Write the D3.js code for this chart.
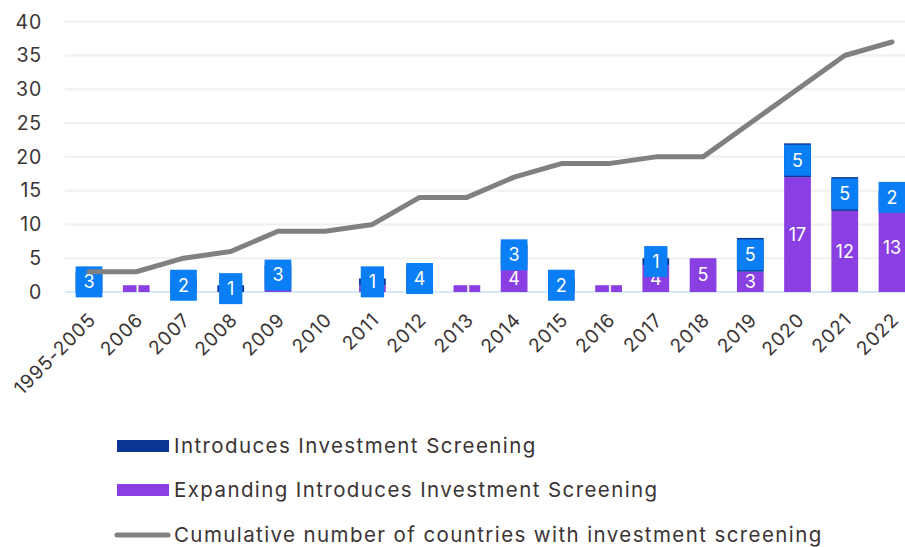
<!DOCTYPE html>
<html>
<head>
<meta charset="utf-8">
<script src="https://cdn.jsdelivr.net/npm/d3@7/dist/d3.min.js"></script>
<style>
  body { margin: 0; background: #fff; }
  svg { display: block; font-family: Inter, "Open Sans", sans-serif; }
</style>
</head>
<body>
<script>
// chart data
var years = ["1995-2005", "2006", "2007", "2008", "2009", "2010", "2011", "2012", "2013",
             "2014", "2015", "2016", "2017", "2018", "2019", "2020", "2021", "2022"];
var introduces = [3, 0, 2, 1, 3, 0, 1, 4, 0, 3, 2, 0, 1, 0, 5, 5, 5, 2];
var expanding = [0, 1, 0, 0, 1, 0, 1, 0, 1, 4, 0, 1, 4, 5, 3, 17, 12, 13];
var cumulative = [3, 3, 5, 6, 9, 9, 10, 14, 14, 17, 19, 19, 20, 20, 25, 30, 35, 37];
var yTicks = [0, 5, 10, 15, 20, 25, 30, 35, 40];
var legendNames = ["Introduces Investment Screening",
                   "Expanding Introduces Investment Screening",
                   "Cumulative number of countries with investment screening"];

var w = 905;
var h = 547;
var textCol = "#3b3435";
var navy = "#0a3595";
var purple = "#8a3fe3";
var labelBlue = "#0a7ef5";
var lineCol = "#808080";
var boxH = 31;

var svg = d3.select("body").append("svg")
    .attr("width", w)
    .attr("height", h);

var x = d3.scaleBand()
    .domain(years)
    .range([65.4, 915.6])
    .paddingInner(0.434)
    .paddingOuter(0.217);

var y = d3.scaleLinear().domain([0, 40]).range([292, 21.7]);

// gridlines
svg.append("g").selectAll("line")
    .data(yTicks)
    .enter().append("line")
    .attr("x1", 65)
    .attr("x2", w)
    .attr("y1", function(d){ return y(d); })
    .attr("y2", function(d){ return y(d); })
    .attr("stroke", function(d){ return d == 0 ? "#d3e8fb" : "#f0f0f0"; })
    .attr("stroke-width", 2);

// y tick labels
svg.append("g").selectAll("text")
    .data(yTicks)
    .enter().append("text")
    .attr("x", 42)
    .attr("y", function(d){ return y(d); })
    .attr("dy", "0.35em")
    .attr("text-anchor", "end")
    .attr("font-size", 19.5)
    .attr("letter-spacing", 0.8)
    .attr("fill", textCol)
    .text(function(d){ return d; });

// x tick labels
svg.append("g").selectAll("text")
    .data(years)
    .enter().append("text")
    .attr("transform", function(d){
        return "translate(" + (x(d) + x.bandwidth() / 2 + 8) + ",321) rotate(-45)";
    })
    .attr("text-anchor", "end")
    .attr("font-size", 19)
    .attr("letter-spacing", 0.9)
    .attr("fill", textCol)
    .text(function(d){ return d; });

// stacked bars
var bars = svg.append("g");
years.forEach(function(yr, i){
    bars.append("rect")
        .attr("x", x(yr))
        .attr("y", y(expanding[i]))
        .attr("width", x.bandwidth())
        .attr("height", y(0) - y(expanding[i]))
        .attr("fill", purple);
    bars.append("rect")
        .attr("x", x(yr))
        .attr("y", y(expanding[i] + introduces[i]))
        .attr("width", x.bandwidth())
        .attr("height", y(expanding[i]) - y(expanding[i] + introduces[i]))
        .attr("fill", navy);
});

// labels of the purple part, white text inside the bar
// (skipped where the blue box of the navy label hides the bar almost completely)
years.forEach(function(yr, i){
    if (expanding[i] > 0) {
        var ly = y(expanding[i] / 2);
        var boxBottom = y(expanding[i] + introduces[i] / 2) + boxH / 2;
        if (introduces[i] > 0 && y(0) - boxBottom < 3) return;
        svg.append("text")
            .attr("x", x(yr) + x.bandwidth() / 2)
            .attr("y", ly)
            .attr("dy", "0.35em")
            .attr("text-anchor", "middle")
            .attr("font-size", 18)
            .attr("fill", "#fff")
            .text(expanding[i]);
    }
});

// labels of the navy part, white text on a blue box
years.forEach(function(yr, i){
    if (introduces[i] > 0) {
        var cx = x(yr) + x.bandwidth() / 2;
        var cy = y(expanding[i] + introduces[i] / 2);
        var box = svg.append("rect").attr("fill", labelBlue);
        var t = svg.append("text")
            .attr("x", cx)
            .attr("y", cy)
            .attr("dy", "0.35em")
            .attr("text-anchor", "middle")
            .attr("font-size", 18)
            .attr("fill", "#fff")
            .text(introduces[i]);
        var tw = t.node().getComputedTextLength();
        var bw = Math.min(x.bandwidth(), tw + 16);
        box.attr("x", cx - bw / 2)
           .attr("y", cy - boxH / 2)
           .attr("width", bw)
           .attr("height", boxH);
    }
});

// cumulative line
var line = d3.line()
    .x(function(d, i){ return x(years[i]) + x.bandwidth() / 2; })
    .y(function(d){ return y(d); });

svg.append("path")
    .datum(cumulative)
    .attr("d", line)
    .attr("fill", "none")
    .attr("stroke", lineCol)
    .attr("stroke-width", 5)
    .attr("stroke-linejoin", "round")
    .attr("stroke-linecap", "round");

// legend
var legend = svg.append("g");
var rowY = [446, 490, 535];
legend.append("rect").attr("x", 117).attr("y", rowY[0] - 6).attr("width", 52).attr("height", 12).attr("fill", navy);
legend.append("rect").attr("x", 117).attr("y", rowY[1] - 6).attr("width", 52).attr("height", 12).attr("fill", purple);
legend.append("line").attr("x1", 117).attr("x2", 168).attr("y1", rowY[2]).attr("y2", rowY[2])
    .attr("stroke", lineCol).attr("stroke-width", 5).attr("stroke-linecap", "round");

legendNames.forEach(function(name, i){
    legend.append("text")
        .attr("x", 174)
        .attr("y", rowY[i])
        .attr("dy", "0.35em")
        .attr("font-size", 20.5)
        .attr("letter-spacing", 1.4)
        .attr("fill", textCol)
        .text(name);
});
</script>
</body>
</html>
